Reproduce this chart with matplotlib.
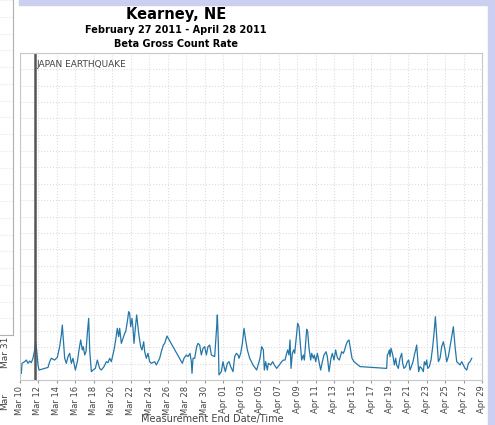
import pandas as pd
import matplotlib.pyplot as plt
import matplotlib.dates as mdates
from matplotlib.patches import Rectangle

# horas desde el 10 de marzo 2011 y tasa beta
horas = [4.8, 6.5, 13.4, 17.7, 22.1, 26.4, 30.7, 35.0, 39.4, 41.9, 44.5, 48.0, 50.6, 56.6, 65.3,
         74.0, 78.3, 82.6, 91.2, 98.2, 104.2, 108.5, 111.1, 114.6, 117.2, 121.5, 125.8, 130.2, 134.5,
         138.8, 144.9, 150.1, 154.4, 158.7, 163.0, 165.6, 169.1, 172.5, 176.0, 179.5, 182.1, 186.4,
         190.7, 196.8, 201.9, 208.0, 212.3, 219.3, 225.3, 229.6, 234.0, 238.3, 245.2, 249.5, 253.8,
         257.3, 259.9, 264.2, 268.5, 272.9, 275.5, 279.8, 283.3, 285.9, 288.4, 291.9, 294.5, 297.1,
         300.5, 304.0, 309.2, 314.4, 317.8, 322.2, 324.8, 329.1, 333.4, 337.7, 342.1, 350.7, 355.0,
         359.4, 363.7, 368.0, 373.2, 376.7, 382.7, 422.5, 426.8, 432.9, 437.2, 442.4, 445.9, 447.6,
         450.2, 454.5, 459.7, 463.2, 467.5, 471.8, 476.1, 480.5, 484.8, 489.1, 493.5, 497.8, 506.4,
         511.6, 513.3, 515.9, 517.6, 523.7, 528.0, 530.6, 534.1, 539.3, 543.6, 547.9, 554.0, 558.3,
         562.6, 567.0, 569.6, 573.9, 578.2, 582.5, 586.8, 591.2, 597.2, 605.9, 615.4, 624.0, 628.3,
         632.7, 635.3, 638.7, 643.0, 645.6, 651.7, 656.9, 661.2, 667.3, 674.2, 680.2, 684.6, 688.9,
         693.2, 695.8, 699.3, 701.9, 704.5, 707.9, 711.4, 714.0, 717.4, 721.8, 725.2, 727.8, 732.1,
         736.5, 739.1, 742.5, 745.1, 747.7, 751.2, 755.5, 758.1, 762.4, 765.0, 768.5, 772.8, 778.0,
         781.4, 785.8, 790.1, 795.3, 798.7, 803.1, 805.6, 808.2, 811.7, 816.0, 820.3, 822.9, 825.5,
         829.8, 835.9, 840.2, 843.7, 847.1, 850.6, 854.9, 859.2, 862.7, 867.9, 883.4, 952.6, 954.4,
         957.0, 959.6, 961.3, 963.9, 967.4, 970.0, 972.6, 976.0, 978.6, 982.9, 987.3, 991.6, 994.2,
         997.6, 1002.0, 1006.3, 1009.8, 1013.2, 1016.7, 1021.0, 1024.5, 1027.9, 1030.5, 1033.1,
         1035.7, 1039.2, 1043.5, 1047.8, 1050.4, 1053.9, 1056.5, 1059.1, 1063.4, 1067.7, 1072.1,
         1075.5, 1079.0, 1082.4, 1086.8, 1091.1, 1095.4, 1099.7, 1104.1, 1108.4, 1112.7, 1117.1,
         1121.4, 1125.7, 1130.1, 1134.4, 1138.7, 1143.0, 1147.4, 1151.7, 1156.0, 1160.4, 1164.7,
         1169.0, 1173.4]
tasa = [4.1, 10.2, 11.2, 12.2, 10.2, 11.6, 10.6, 13.3, 18.4, 23.4, 18.4, 9.2, 6.1, 6.5, 7.1,
        7.7, 11.2, 13.3, 12.2, 13.9, 20.4, 27.5, 33.6, 22.4, 13.3, 10.2, 14.3, 16.3, 10.2,
        13.3, 6.1, 11.2, 18.4, 24.5, 18.4, 20.4, 15.3, 17.3, 28.5, 37.7, 18.4, 5.1,
        6.1, 7.1, 12.2, 7.1, 6.1, 8.2, 11.2, 10.6, 13.3, 11.2, 18.4, 24.5, 31.6,
        26.5, 31.6, 22.4, 25.5, 28.5, 29.6, 35.7, 41.8, 40.8, 32.6, 37.7, 31.6, 22.4,
        31.6, 39.8, 28.5, 20.4, 18.4, 23.4, 17.3, 13.3, 16.3, 11.2, 10.2, 11.2, 9.2,
        11.2, 13.3, 17.3, 21.4, 22.4, 26.9, 10.2, 13.3, 15.3, 14.3, 16.3, 11.2, 4.1,
        13.3, 13.3, 20.4, 22.4, 21.4, 15.3, 19.4, 20.4, 15.3, 20.4, 21.4, 15.3, 14.3,
        32.6, 39.8, 22.4, 3.1, 5.1, 11.2, 8.2, 5.1, 10.2, 11.2, 8.2, 5.1, 14.3,
        16.3, 15.3, 13.3, 16.3, 22.4, 31.6, 24.5, 18.4, 13.3, 9.2, 6.1, 13.3, 20.4,
        18.4, 6.1, 11.2, 6.1, 10.2, 9.2, 11.2, 9.2, 7.1, 9.2, 11.2, 12.2, 12.2,
        16.3, 18.4, 15.3, 24.5, 7.1, 16.3, 18.4, 16.3, 24.5, 34.7, 32.6, 24.5, 12.2,
        15.3, 12.2, 22.4, 31.0, 29.6, 19.4, 12.2, 16.3, 13.3, 15.3, 11.2, 16.3, 10.2,
        6.1, 11.2, 15.3, 17.3, 14.3, 5.1, 9.2, 13.3, 16.3, 12.2, 18.4, 15.3, 13.3,
        12.2, 17.3, 16.3, 18.4, 21.4, 23.4, 24.5, 18.4, 13.3, 11.2, 8.2, 7.1, 15.3,
        16.3, 18.4, 14.3, 19.4, 16.3, 13.3, 9.2, 13.3, 9.2, 7.1, 13.3, 16.3, 10.2,
        7.1, 8.2, 11.2, 12.2, 6.1, 8.2, 11.2, 15.3, 18.4, 21.4, 13.3,
        5.1, 8.2, 7.1, 5.1, 11.2, 9.2, 12.2, 7.1, 8.2, 12.2, 20.4,
        28.5, 38.7, 26.5, 11.2, 13.3, 20.4, 23.4, 18.4, 11.2, 14.3, 20.4,
        26.5, 32.6, 20.4, 11.2, 10.2, 9.2, 11.2, 9.2, 7.1, 6.1, 10.2,
        11.2, 13.3]

fechas = pd.Timestamp("2011-03-10") + pd.to_timedelta(horas, unit="h")
terremoto = pd.Timestamp("2011-03-11 16:00")
marcas = pd.date_range("2011-03-10", "2011-04-29", freq="2D")

W, H = 495, 425
fig = plt.figure(figsize=(W / 100, H / 100), dpi=100, facecolor="white")

# marco lila de la captura
fig.patches.append(Rectangle((19 / W, 1 - 5 / H), 1, 5 / H, transform=fig.transFigure,
                             color="#cbd0f0", zorder=0))
fig.patches.append(Rectangle((488 / W, 0), 7 / W, 1, transform=fig.transFigure,
                             color="#cbd0f0", zorder=0))

# pedazo del grafico vecino a la izquierda
axIzq = fig.add_axes([0, (H - 335) / H, 12.5 / W, 335 / H])
axIzq.set_ylim(0, 20)
axIzq.set_yticks(range(0, 21))
axIzq.set_xticks([])
axIzq.tick_params(left=False, labelleft=False)
axIzq.grid(axis="y", color="#e4e4e4", linestyle=":", linewidth=0.8)
for lado in ["left", "top"]:
    axIzq.spines[lado].set_visible(False)
axIzq.spines["right"].set_color("#b0b0b0")
axIzq.spines["bottom"].set_color("#b0b0b0")
fig.text(0.5 / W, 1 - 352 / H, "Mar 31", rotation=90, fontsize=6.5, color="#444444", va="center")
fig.text(0.5 / W, 1 - 402 / H, "Mar", rotation=90, fontsize=6.5, color="#444444", va="center")

# grafico principal
ax = fig.add_axes([19.5 / W, (H - 380) / H, (482 - 19.5) / W, (380 - 53) / H])
ax.plot(fechas, tasa, color="#2377a8", linewidth=0.9)
ax.axvline(terremoto, color="#555555", linewidth=1.8)
ax.text(terremoto + pd.Timedelta(hours=3), 196, "JAPAN EARTHQUAKE", fontsize=6.5,
        color="#444444", va="top", ha="left")

ax.set_xlim(pd.Timestamp("2011-03-10"), pd.Timestamp("2011-04-29"))
ax.set_ylim(0, 200)
ax.set_yticks(range(0, 201, 10))
ax.tick_params(axis="y", left=False, labelleft=False)
ax.set_xticks(marcas)
ax.xaxis.set_major_formatter(mdates.DateFormatter("%b %d"))
ax.tick_params(axis="x", labelsize=6, labelcolor="#444444", rotation=90,
               length=2.5, color="#999999", pad=1.5)
ax.grid(True, color="#dddddd", linestyle=":", linewidth=0.8)
for lado in ax.spines.values():
    lado.set_color("#c8c8c8")

# titulos
fig.text(212 / W, 1 - 419 / H, "Measurement End Date/Time", fontsize=7, color="#444444",
         ha="center", va="center")
fig.text(176 / W, 1 - 14 / H, "Kearney, NE", fontsize=10.5, fontweight="bold", ha="center", va="center")
fig.text(176 / W, 1 - 30 / H, "February 27 2011 - April 28 2011", fontsize=7, fontweight="bold",
         ha="center", va="center")
fig.text(176 / W, 1 - 44 / H, "Beta Gross Count Rate", fontsize=7, fontweight="bold",
         ha="center", va="center")

fig.savefig("out.png", dpi=100)
